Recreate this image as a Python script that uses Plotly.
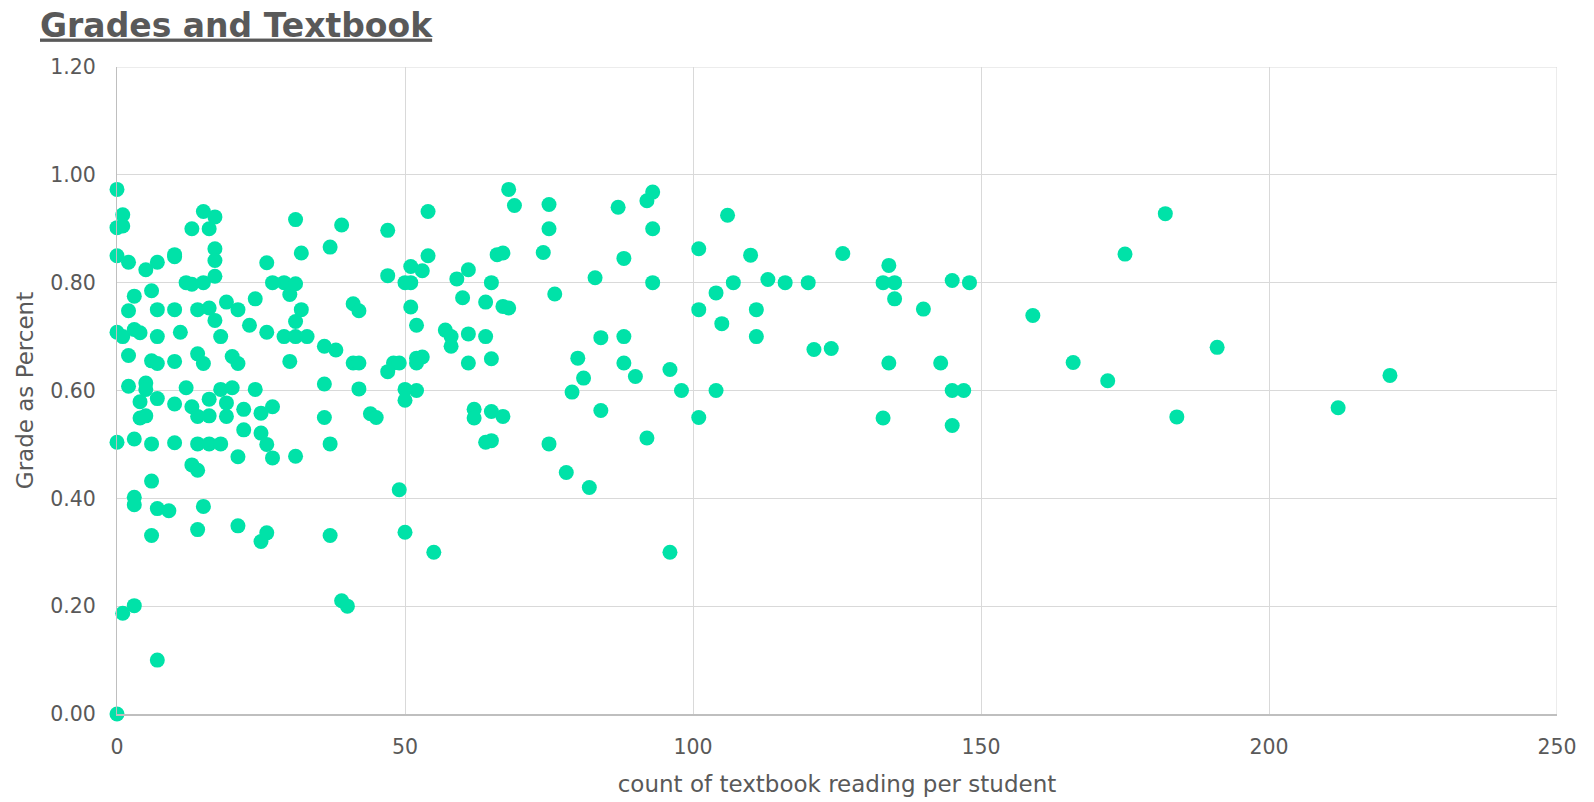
import plotly.graph_objects as go

# Textbook reading counts per student and the matching grade (as a fraction)
reading_count = [
    0, 0, 0, 0, 0, 0,
    1, 1, 1, 1,
    2, 2, 2, 2,
    3, 3, 3, 3, 3, 3,
    4, 4, 4,
    5, 5, 5, 5,
    6, 6, 6, 6, 6,
    7, 7, 7, 7, 7, 7, 7,
    9,
    10, 10, 10, 10, 10, 10,
    11,
    12, 12,
    13, 13, 13, 13,
    14, 14, 14, 14, 14, 14,
    15, 15, 15, 15,
    16, 16, 16, 16, 16,
    17, 17, 17, 17, 17,
    18, 18, 18,
    19, 19, 19,
    20, 20,
    21, 21, 21, 21,
    22, 22,
    23,
    24, 24,
    25, 25, 25,
    26, 26, 26, 26,
    27, 27, 27,
    29, 29,
    30, 30,
    31, 31, 31, 31, 31,
    32, 32,
    33,
    36, 36, 36,
    37, 37, 37,
    38,
    39, 39,
    40,
    41, 41,
    42, 42, 42,
    44,
    45,
    47, 47, 47,
    48,
    49, 49,
    50, 50, 50, 50,
    51, 51, 51,
    52, 52, 52, 52,
    53, 53,
    54, 54,
    55,
    57,
    58, 58,
    59,
    60,
    61, 61, 61,
    62, 62,
    64, 64, 64,
    65, 65, 65, 65,
    66,
    67, 67, 67,
    68, 68,
    69,
    74,
    75, 75, 75,
    76,
    78,
    79,
    80,
    81,
    82,
    83,
    84, 84,
    87,
    88, 88, 88,
    90,
    92, 92,
    93, 93, 93,
    96, 96,
    98,
    101, 101, 101,
    104, 104,
    105,
    106,
    107,
    110,
    111, 111,
    113,
    116,
    120,
    121,
    124,
    126,
    133, 133,
    134, 134,
    135, 135,
    140,
    143,
    145, 145, 145,
    147,
    148,
    159,
    166,
    172,
    175,
    182,
    184,
    191,
    212,
    221,
]

grade_pct = [
    0.973, 0.902, 0.850, 0.708, 0.504, 0.000,
    0.926, 0.905, 0.700, 0.187,
    0.838, 0.748, 0.665, 0.608,
    0.775, 0.713, 0.510, 0.402, 0.388, 0.201,
    0.707, 0.579, 0.549,
    0.824, 0.614, 0.602, 0.553,
    0.785, 0.655, 0.501, 0.432, 0.331,
    0.838, 0.750, 0.700, 0.650, 0.585, 0.381, 0.100,
    0.377,
    0.852, 0.848, 0.750, 0.654, 0.575, 0.503,
    0.708,
    0.800, 0.605,
    0.900, 0.797, 0.570, 0.462,
    0.750, 0.668, 0.552, 0.501, 0.452, 0.342,
    0.932, 0.800, 0.650, 0.385,
    0.900, 0.753, 0.584, 0.553, 0.501,
    0.922, 0.863, 0.841, 0.812, 0.730,
    0.700, 0.602, 0.501,
    0.764, 0.577, 0.552,
    0.663, 0.605,
    0.750, 0.650, 0.477, 0.349,
    0.565, 0.527,
    0.721,
    0.770, 0.602,
    0.558, 0.521, 0.320,
    0.837, 0.708, 0.500, 0.336,
    0.800, 0.570, 0.475,
    0.800, 0.700,
    0.778, 0.654,
    0.917, 0.798, 0.728, 0.700, 0.478,
    0.855, 0.750,
    0.700,
    0.682, 0.612, 0.550,
    0.866, 0.501, 0.331,
    0.675,
    0.907, 0.210,
    0.200,
    0.761, 0.651,
    0.748, 0.651, 0.603,
    0.557,
    0.550,
    0.897, 0.813, 0.635,
    0.651,
    0.651, 0.416,
    0.800, 0.602, 0.582, 0.337,
    0.830, 0.800, 0.755,
    0.721, 0.660, 0.651, 0.600,
    0.822, 0.662,
    0.932, 0.850,
    0.300,
    0.712,
    0.700, 0.682,
    0.807,
    0.772,
    0.824, 0.705, 0.651,
    0.565, 0.549,
    0.764, 0.700, 0.504,
    0.800, 0.659, 0.561, 0.507,
    0.852,
    0.855, 0.756, 0.552,
    0.973, 0.753,
    0.943,
    0.856,
    0.945, 0.900, 0.501,
    0.779,
    0.448,
    0.597,
    0.660,
    0.623,
    0.420,
    0.809,
    0.698, 0.563,
    0.940,
    0.845, 0.700, 0.651,
    0.626,
    0.952, 0.512,
    0.968, 0.900, 0.800,
    0.639, 0.300,
    0.600,
    0.863, 0.750, 0.550,
    0.781, 0.600,
    0.724,
    0.925,
    0.800,
    0.851,
    0.750, 0.700,
    0.806,
    0.800,
    0.800,
    0.676,
    0.678,
    0.854,
    0.800, 0.549,
    0.832, 0.651,
    0.800, 0.770,
    0.751,
    0.651,
    0.804, 0.600, 0.535,
    0.600,
    0.800,
    0.739,
    0.652,
    0.618,
    0.853,
    0.928,
    0.551,
    0.680,
    0.568,
    0.628,
]

x_ticks = [0, 50, 100, 150, 200, 250]
y_ticks = [0.0, 0.2, 0.4, 0.6, 0.8, 1.0, 1.2]

TEXT = "#595959"
GRID = "#d9d9d9"
FONT = "DejaVu Sans"

fig = go.Figure(
    go.Scatter(
        x=reading_count,
        y=grade_pct,
        mode="markers",
        marker=dict(size=15, color="#00E2A8", line=dict(width=0)),
        cliponaxis=False,
        showlegend=False,
    )
)

fig.update_layout(
    width=1594,
    height=802,
    margin=dict(l=117, r=37, t=67, b=88, autoexpand=False),
    paper_bgcolor="white",
    plot_bgcolor="white",
    font=dict(family=FONT, color=TEXT, size=20),
    title=dict(
        text="<b><u>Grades and Textbook</u></b>",
        font=dict(family=FONT, size=33, color=TEXT),
        x=40 / 1594,
        xanchor="left",
        xref="container",
        y=1 - 25 / 802,
        yanchor="middle",
        yref="container",
        automargin=False,
    ),
)

fig.update_xaxes(
    range=[0, 250],
    tickvals=x_ticks,
    ticktext=[str(v) for v in x_ticks],
    showgrid=True,
    gridcolor=GRID,
    gridwidth=1,
    zeroline=False,
    showline=True,
    linecolor="#bfbfbf",
    linewidth=2,
    ticks="",
    ticklabelstandoff=13,
    tickfont=dict(size=20.5, color=TEXT),
    automargin=False,
    title=dict(text="count of textbook reading per student",
               font=dict(size=23, color=TEXT), standoff=18),
)

fig.update_yaxes(
    range=[0, 1.2],
    tickvals=y_ticks,
    ticktext=[f"{v:.2f}" for v in y_ticks],
    showgrid=True,
    gridcolor=GRID,
    gridwidth=1,
    zeroline=False,
    showline=True,
    linecolor="#bfbfbf",
    linewidth=1,
    ticks="",
    ticklabelstandoff=16,
    tickfont=dict(size=20.5, color=TEXT),
    automargin=False,
    title=dict(text="Grade as Percent",
               font=dict(size=23, color=TEXT), standoff=10),
)

# right and top borders drawn as grid lines at the range ends
fig.add_shape(type="line", xref="x", yref="paper", x0=250, x1=250, y0=0, y1=1,
              line=dict(color=GRID, width=1), layer="below")
fig.add_shape(type="line", xref="paper", yref="y", x0=0, x1=1, y0=1.2, y1=1.2,
              line=dict(color=GRID, width=1), layer="below")

fig.write_html("out.html")
